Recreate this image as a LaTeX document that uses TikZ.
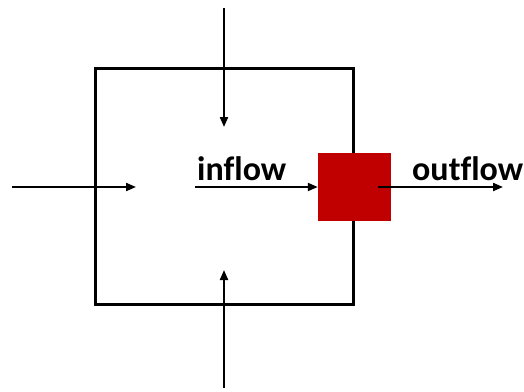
\documentclass[tikz,border=0pt]{standalone}
\usepackage{fontspec}
\setmainfont[Ligatures=NoCommon]{Carlito}
\usetikzlibrary{arrows.meta}
\definecolor{valvered}{HTML}{C00000}
\tikzset{
  flow/.style={line width=2pt, -{Triangle[length=10pt,width=8pt]}},
  label/.style={font=\bfseries\fontsize{34}{36}\selectfont, inner sep=0pt, anchor=base west},
  tank/.style={draw, line width=3pt, minimum width=258pt, minimum height=236pt, inner sep=0pt},
  valve/.style={fill=valvered, minimum width=73pt, minimum height=68pt, inner sep=0pt},
}
\begin{document}
\begin{tikzpicture}[x=1pt, y=-1pt]
\useasboundingbox (0,0) rectangle (524,391);
% control volume and outlet valve
\node[tank] (box) at (224,186) {};
\node[valve] (valve) at (354.5,187) {};
% arrow end points
\coordinate (topS) at (224,8);
\coordinate (topE) at (224,127);
\coordinate (botS) at (224,388);
\coordinate (botE) at (224,270);
\coordinate (leftS) at (12,187);
\coordinate (leftE) at (136,187);
\coordinate (inS) at (195,187);
\coordinate (outS) at (378,187);
\coordinate (outE) at (503,187);
% flows
\draw[flow] (topS) -- (topE);
\draw[flow] (botS) -- (botE);
\draw[flow] (leftS) -- (leftE);
\draw[flow] (inS) -- (valve.west);
\draw[flow] (outS) -- (outE);
% labels
\node[label] (inlab) at (197,180) {inflow};
\node[label] (outlab) at (412,180) {outflow};
\end{tikzpicture}
\end{document}
